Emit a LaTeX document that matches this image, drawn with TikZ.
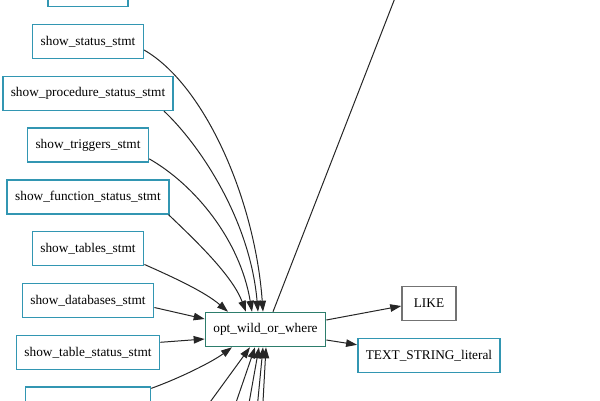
\documentclass[tikz,border=0pt]{standalone}
\usepackage{fontspec}
\setmainfont{Liberation Serif}
\usetikzlibrary{arrows.meta, positioning}

\definecolor{stmtblue}{RGB}{50,150,178}
\definecolor{optgreen}{RGB}{45,125,108}
\definecolor{tokgray}{RGB}{115,115,115}

\begin{document}
\begin{tikzpicture}[
  x=1pt, y=1pt, font=\fontsize{13.3}{16}\selectfont, node distance=16.3pt,
  box/.style={rectangle, draw=stmtblue, line width=1.5pt, fill=white, minimum width=54pt, minimum height=34pt, inner xsep=8pt, align=center},
  stmt/.style={box},
  opt/.style={box, draw=optgreen},
  tok/.style={box, draw=tokgray},
  arr/.style={-{Triangle[length=11pt, width=7.5pt]}, draw=black!85, line width=1pt}]
\useasboundingbox (0,0) rectangle (600,-400);
\clip (0,0) rectangle (600,-400);
% left column
\node[stmt] (status) at (88,-41.5) {show\_status\_stmt};
\node[stmt, minimum width=80pt, above=of status] (prev) {};
\node[stmt, below=of status] (proc) {show\_procedure\_status\_stmt};
\node[stmt, below=of proc] (trig) {show\_triggers\_stmt};
\node[stmt, below=of trig] (func) {show\_function\_status\_stmt};
\node[stmt, below=of func] (tables) {show\_tables\_stmt};
\node[stmt, below=of tables] (dbs) {show\_databases\_stmt};
\node[stmt, below=of dbs] (tstatus) {show\_table\_status\_stmt};
\node[stmt, minimum width=125pt, below=of tstatus] (next) {};
% middle and right
\node[opt] (optw) at (265.5,-329.5) {opt\_wild\_or\_where};
\node[tok] (like) at (429,-303.5) {LIKE};
\node[stmt, below=of like] (lit) {TEXT\_STRING\_literal};
\coordinate (up) at (402,20);
% edges
\draw[arr] ([yshift=-8.5pt]status.east) .. controls (205,-85) and (255,-200) .. ([xshift=-2.5pt]optw.north);
\draw[arr] ([xshift=-10pt]proc.south east) .. controls (200,-145) and (250,-220) .. ([xshift=-7.5pt]optw.north);
\draw[arr] ([yshift=4pt]trig.south east) .. controls (195,-185) and (240,-240) .. ([xshift=-13.5pt]optw.north);
\draw[arr] ([xshift=-1pt]func.south east) .. controls (195,-240) and (232,-275) .. ([xshift=-19.5pt]optw.north);
\draw[arr] ([yshift=2pt]tables.south east) .. controls (175,-278) and (205,-292) .. ([xshift=-37.5pt]optw.north);
\draw[arr] ([yshift=-7pt]dbs.east) -- ([yshift=10.5pt]optw.west);
\draw[arr] ([yshift=10pt]tstatus.east) -- ([yshift=-9.5pt]optw.west);
\draw[arr] ([yshift=-2pt]next.north east) .. controls (180,-378) and (212,-362) .. ([xshift=-33.5pt]optw.south);
\foreach \bx/\ex [count=\i] in {197/-15.5, 230/-10.5, 246/-6.5, 256/-2.5, 262/0.5} {
  \coordinate (low\i) at (\bx,-420);
  \draw[arr] (low\i) -- ([xshift=\ex pt]optw.south);
}
\draw[arr] ([xshift=7.5pt]optw.north) -- (up);
\draw[arr] ([yshift=9.5pt]optw.east) -- ([yshift=-2.5pt]like.west);
\draw[arr] ([yshift=-10.5pt]optw.east) -- ([yshift=10.5pt]lit.west);
\end{tikzpicture}
\end{document}
